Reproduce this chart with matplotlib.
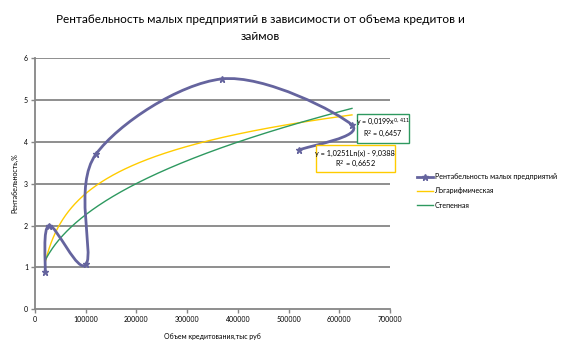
import numpy as np
import matplotlib
matplotlib.use("Agg")
import matplotlib.pyplot as plt
from matplotlib.path import Path
from matplotlib.patches import PathPatch, Rectangle

# Data
credit = [20000, 28000, 101000, 120000, 368000, 625000, 520000]
profit = [0.9, 2.0, 1.08, 3.7, 5.5, 4.4, 3.8]
log_a, log_b = 1.0251, -9.0388
pow_a, pow_b = 0.0199, 0.411
series_name = "Рентабельность малых предприятий"
log_name = "Логарифмическая"
pow_name = "Степенная"
title = "Рентабельность малых предприятий в зависимости от объема кредитов и\nзаймов"
xlabel = "Объем кредитования,тыс руб"
ylabel = "Рентабельность,%"
xticks = [0, 100000, 200000, 300000, 400000, 500000, 600000, 700000]
yticks = [0, 1, 2, 3, 4, 5, 6]

W, H = 564, 351
fig = plt.figure(figsize=(W / 100, H / 100), dpi=100)
plt.rcParams['font.family'] = ['Lato', 'DejaVu Sans']

L, R, T, B = 35, 390, 58, 309.3
ax = fig.add_axes([L / W, 1 - B / H, (R - L) / W, (B - T) / H])
ax.set_xlim(0, 700000)
ax.set_ylim(0, 6)

grid_c = '#868686'
for yv in yticks[1:]:
    ax.axhline(yv, color=grid_c, lw=1.3, zorder=1)
for s in ['top', 'right']:
    ax.spines[s].set_visible(False)
for s in ['left', 'bottom']:
    ax.spines[s].set_color(grid_c)
    ax.spines[s].set_linewidth(1.3)
ax.set_xticks(xticks)
ax.set_yticks(yticks)
ax.set_xticklabels([str(v) for v in xticks])
ax.tick_params(axis='both', labelsize=5, length=3, color=grid_c, width=1, pad=2)

# Excel-like smoothed line (Bezier through points, computed in pixel space)
sx = (R - L) / 700000.0
sy = (B - T) / 6.0
P = np.array([[x * sx, y * sy] for x, y in zip(credit, profit)])
n = len(P)
verts = [P[0]]
codes = [Path.MOVETO]
for i in range(n - 1):
    p0 = P[i - 1] if i > 0 else P[i]
    p1 = P[i]
    p2 = P[i + 1]
    p3 = P[i + 2] if i + 2 < n else P[i + 1]
    c1 = p1 + (p2 - p0) / 6.0
    c2 = p2 - (p3 - p1) / 6.0
    verts += [c1, c2, p2]
    codes += [Path.CURVE4] * 3
verts = np.array(verts)
verts[:, 0] /= sx
verts[:, 1] /= sy
purple = '#65649E'
patch = PathPatch(Path(verts, codes), facecolor='none', edgecolor=purple, lw=2.0, zorder=4,
                  capstyle='round', joinstyle='round')
ax.add_patch(patch)
ax.plot(credit, profit, ls='none', marker='*', ms=5, color=purple, zorder=5)

# Trendlines
xs = np.linspace(min(credit), max(credit), 300)
ax.plot(xs, log_a * np.log(xs) + log_b, color='#FFCC00', lw=1.0, zorder=3)
ax.plot(xs, pow_a * xs ** pow_b, color='#2E9960', lw=1.0, zorder=3)


def fx(px):
    return px / W


def fy(py):
    return 1 - py / H


# Trendline label boxes
green = '#2E9960'
yellow = '#FFCC00'
fig.add_artist(Rectangle((fx(357), fy(143)), (409 - 357) / W, (143 - 114) / H,
                         transform=fig.transFigure, fc='white', ec=green, lw=1.0, zorder=10))
fig.text(fx(383), fy(122.5), "y = 0,0199x$^{0,411}$", fontsize=5.1, ha='center', va='center', zorder=11)
fig.text(fx(383), fy(134), "R$^2$ = 0,6457", fontsize=5.1, ha='center', va='center', zorder=11)
fig.add_artist(Rectangle((fx(316), fy(172)), (395 - 316) / W, (172 - 145) / H,
                         transform=fig.transFigure, fc='white', ec=yellow, lw=1.0, zorder=10))
fig.text(fx(355), fy(153), "y = 1,0251Ln(x) - 9,0388", fontsize=5.3, ha='center', va='center', zorder=11)
fig.text(fx(355), fy(164), "R$^2$ = 0,6652", fontsize=5.3, ha='center', va='center', zorder=11)

# Legend (manual)
leg_items = [(series_name, purple, 2.0, '*'), (log_name, yellow, 1.0, None), (pow_name, green, 1.0, None)]
for k, (lab, c, lw, mk) in enumerate(leg_items):
    yy = fy(177 + 14 * k)
    fig.add_artist(plt.Line2D([fx(417), fx(433)], [yy, yy], color=c, lw=lw, transform=fig.transFigure))
    if mk:
        fig.add_artist(plt.Line2D([fx(425)], [yy], marker=mk, ms=5, color=c, transform=fig.transFigure))
    fig.text(fx(435), yy, lab, fontsize=5.1, ha='left', va='center')

fig.text(fx(260), fy(28), title, fontsize=8.5, ha='center', va='center', linespacing=1.6)
fig.text(fx(212), fy(336), xlabel, fontsize=5, ha='center', va='center')
fig.text(fx(15), fy(183), ylabel, fontsize=5, ha='center', va='center', rotation=90)

fig.savefig('out.png', dpi=100)
